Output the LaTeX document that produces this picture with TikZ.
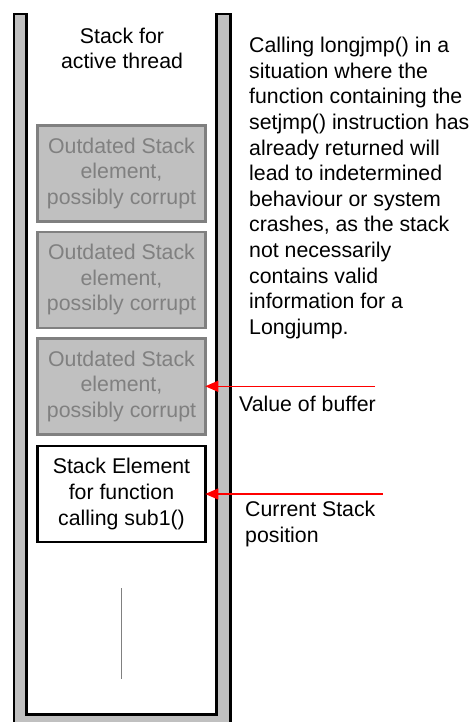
\documentclass[tikz,border=0pt]{standalone}
\usepackage{fontspec}
\setmainfont{Liberation Sans}
\usetikzlibrary{arrows.meta}
\definecolor{wallgray}{HTML}{C0C0C0}
\definecolor{oldgray}{HTML}{808080}

\begin{document}
\begin{tikzpicture}[x=1pt,y=-1pt,font=\fontsize{21.3}{25.6}\selectfont,
  oldbox/.style={draw=oldgray,line width=2.6pt,fill=wallgray,text=oldgray,
    minimum width=168pt,minimum height=96pt,align=center,inner sep=0pt},
  curbox/.style={oldbox,draw=black,fill=white,text=black},
  ptr/.style={red,line width=1.3pt,-{Triangle[length=13pt,width=11pt]},shorten >=-1.5pt}]
  \useasboundingbox (0,0) rectangle (470,722);
  % the stack walls
  \draw[line width=2.5pt,fill=wallgray] (14,14) -- (14,740) -- (230.5,740) -- (230.5,14)
    -- (216.5,14) -- (216.5,714.7) -- (26.5,714.7) -- (26.5,14) -- cycle;
  \node[align=center,inner sep=0pt] (title) at (122,48.5) {Stack for\\active thread};
  \node[oldbox] (old1) at (121.5,173.3) {Outdated Stack\\element,\\possibly corrupt};
  \node[oldbox] (old2) at (121.5,279.8) {Outdated Stack\\element,\\possibly corrupt};
  \node[oldbox] (old3) at (121.5,386.3) {Outdated Stack\\element,\\possibly corrupt};
  \node[curbox] (cur) at (121.5,494) {Stack Element\\for function\\calling sub1()};
  \draw[oldgray,line width=1pt] (121.7,588) -- (121.7,679);
  % pointers into the stack
  \coordinate (bufptr) at (375,386.3);
  \coordinate (curptr) at (382.7,494);
  \draw[ptr] (bufptr) -- (old3.east);
  \draw[ptr] (curptr) -- (cur.east);
  \node[anchor=west,inner sep=0pt] (buflbl) at (239,403.5) {Value of buffer};
  \node[anchor=west,align=left,inner sep=0pt] (curlbl) at (245,524) {Current Stack\\position};
  \node[anchor=west,align=left,inner sep=0pt] (note) at (249,188) {Calling longjmp() in a\\situation where the\\function containing the\\setjmp() instruction has\\already returned will\\lead to indetermined\\behaviour or system\\crashes, as the stack\\not necessarily\\contains valid\\information for a\\Longjump.};
\end{tikzpicture}
\end{document}
